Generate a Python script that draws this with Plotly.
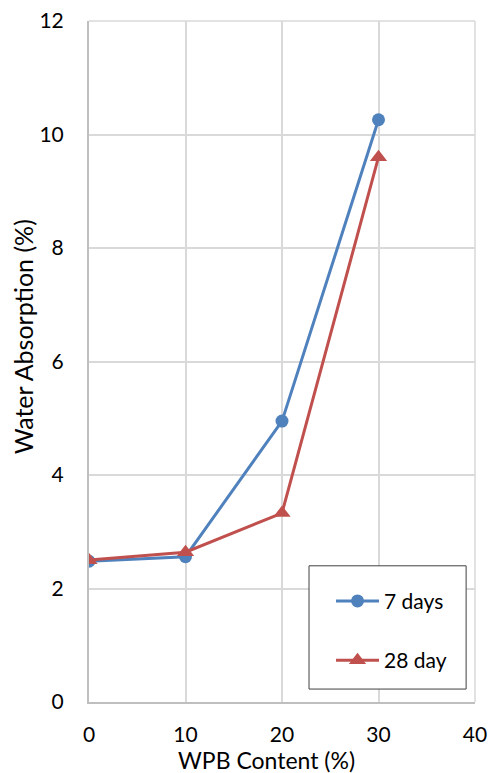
import plotly.graph_objects as go

wpb = [0, 10, 20, 30]
days7 = [2.48, 2.56, 4.95, 10.26]
days28 = [2.50, 2.64, 3.33, 9.60]
x_ticks = [0, 10, 20, 30, 40]
y_ticks = [0, 2, 4, 6, 8, 10, 12]
names = ["7 days", "28 day"]
x_title = "WPB Content (%)"
y_title = "Water Absorption (%)"

FONT = "Lato"
GRID = "#d9d9d9"
fig = go.Figure()
fig.add_trace(go.Scatter(x=wpb, y=days7, mode="lines+markers", name=names[0],
                         line=dict(color="#4f81bd", width=3),
                         marker=dict(symbol="circle", size=13, color="#4f81bd"),
                         legendgroup="a"))
fig.add_trace(go.Scatter(x=wpb, y=days28, mode="lines+markers", name=names[1],
                         line=dict(color="#c0504d", width=3),
                         marker=dict(symbol="triangle-up", size=15, color="#c0504d"),
                         legendgroup="b"))

# top and right edge gridlines (plotly skips gridlines at the range ends)
fig.add_shape(type="line", xref="paper", yref="paper", x0=0, x1=1, y0=1, y1=1,
              line=dict(color=GRID, width=1.5), layer="between")
fig.add_shape(type="line", xref="paper", yref="paper", x0=1, x1=1, y0=0, y1=1,
              line=dict(color=GRID, width=1.5), layer="between")

# legend frame (opaque white box with dark border)
fig.add_shape(type="rect", xref="paper", yref="paper",
              x0=0.570, x1=0.977, y0=0.019, y1=0.200,
              line=dict(color="#404040", width=1), fillcolor="white", layer="above")

# axis titles as annotations (positioned like the original)
fig.add_annotation(text=x_title, xref="paper", yref="paper", x=0.459, y=-0.085,
                   showarrow=False, xanchor="center", yanchor="middle",
                   font=dict(size=23, family=FONT, color="black"))
fig.add_annotation(text=y_title, xref="paper", yref="paper", x=-0.171, y=0.537,
                   showarrow=False, xanchor="center", yanchor="middle", textangle=-90,
                   font=dict(size=25, family=FONT, color="black"))

fig.update_layout(
    width=489, height=773,
    margin=dict(l=89, r=14, t=21, b=71, autoexpand=False),
    paper_bgcolor="white", plot_bgcolor="white",
    font=dict(family=FONT, size=21, color="black"),
    showlegend=True,
    legend=dict(x=0.627, y=0.178, xanchor="left", yanchor="top",
                borderwidth=0, bgcolor="rgba(0,0,0,0)", itemwidth=43,
                font=dict(size=21), tracegroupgap=29,
                traceorder="grouped"),
    xaxis=dict(range=[0, 40], tickvals=x_ticks, showgrid=True, gridcolor=GRID,
               gridwidth=1.5, zeroline=False, showline=True, linecolor="#bfbfbf",
               linewidth=2, ticks="", ticklabelstandoff=13, automargin=False,
               ticklabeloverflow="allow", tickfont=dict(size=21)),
    yaxis=dict(range=[0, 12], tickvals=y_ticks, showgrid=True, gridcolor=GRID,
               gridwidth=1.5, zeroline=False, showline=True, linecolor="#bfbfbf",
               linewidth=2, ticks="", ticklabelstandoff=19, automargin=False,
               ticklabeloverflow="allow", tickfont=dict(size=21)),
)
fig.write_html("out.html", config={"displayModeBar": False},
               post_script="document.body.style.margin='0';document.body.style.overflow='hidden';")
